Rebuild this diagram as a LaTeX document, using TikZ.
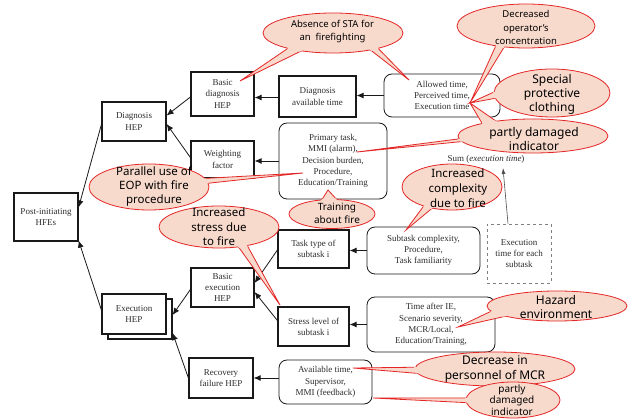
\documentclass[tikz,border=0pt]{standalone}
\usepackage{fontspec}
\setmainfont{Liberation Serif}
\newfontfamily\bubfont{Noto Sans}
\usetikzlibrary{arrows.meta,calc,shapes.geometric}
\definecolor{bubfill}{RGB}{248,218,205}
\definecolor{bubline}{RGB}{228,38,38}
\definecolor{boxtext}{RGB}{45,45,45}
\definecolor{boxline}{RGB}{25,25,25}
\tikzset{
  basebox/.style={fill=white,inner sep=0pt,align=center,text=boxtext,
    font=\fontsize{9}{11.2}\selectfont},
  sqbox/.style={basebox,draw=boxline,line width=1.2pt},
  rbox/.style={basebox,draw=boxline,line width=0.8pt,rounded corners=8pt},
  dbox/.style={basebox,draw=gray,dashed,line width=0.7pt},
  conn/.style={-{Latex[length=7pt,width=6pt]},line width=0.8pt,draw=boxline},
  bub/.style={draw=bubline,fill=bubfill,line width=0.8pt},
  bubtxt/.style={align=center,text=black,inner sep=0pt},
}
\newcommand\bubtail[6]{%
  \filldraw[bub] (#2) -- ($(#1)+(#3:{0.82*#5} and {0.82*#6})$) -- ($(#1)+(#4:{0.82*#5} and {0.82*#6})$) -- cycle;}
\newcommand\bubrefill[6]{%
  \begin{scope}
  \clip (#1) ellipse [x radius={#5+1.2pt}, y radius={#6+1.2pt}];
  \fill[bubfill] (#2) -- ($(#1)+(#3:{0.82*#5} and {0.82*#6})$) -- ($(#1)+(#4:{0.82*#5} and {0.82*#6})$) -- cycle;
  \end{scope}}
\begin{document}
\begin{tikzpicture}[x=1pt,y=-1pt]
\useasboundingbox[fill=white] (0,0) rectangle (629,419);

% ---------- boxes ----------
\node[sqbox,minimum width=64pt,minimum height=48pt] (post) at (46,217) {Post-initiating\\HFEs};
\node[sqbox,minimum width=64pt,minimum height=39pt] (diag) at (134,121.5) {Diagnosis\\HEP};
\node[sqbox,minimum width=63pt,minimum height=44pt] (basicdiag) at (222.5,94) {Basic\\diagnosis\\HEP};
\node[sqbox,minimum width=63pt,minimum height=37pt] (weight) at (222.5,159.5) {Weighting\\factor};
\node[sqbox,minimum width=77pt,minimum height=41pt] (davail) at (317.5,96.5) {Diagnosis\\available time};
\node[rbox,minimum width=116pt,minimum height=43pt] (allowed) at (442,95.5) {Allowed time,\\Perceived time,\\Execution time};
\node[rbox,minimum width=108pt,minimum height=76pt] (primary) at (333,161) {Primary task,\\MMI (alarm),\\Decision burden,\\Procedure,\\Education/Training};
\node[sqbox,minimum width=71pt,minimum height=38pt] (tasktype) at (313.5,249) {Task type of\\subtask i};
\node[rbox,minimum width=113pt,minimum height=47pt] (subtask) at (423.5,250.5) {Subtask complexity,\\Procedure,\\Task familiarity};
\node[dbox,minimum width=64pt,minimum height=59pt] (exectime) at (519,253.5) {Execution\\time for each\\subtask};
\node[sqbox,minimum width=63pt,minimum height=39pt] (basicexec) at (222.5,287.5) {Basic\\execution\\HEP};
\node[sqbox,minimum width=71pt,minimum height=39pt] (stress) at (313.5,326.5) {Stress level of\\subtask i};
\node[rbox,minimum width=128pt,minimum height=55pt] (timeafter) at (431,324.5) {Time after IE,\\Scenario severity,\\MCR/Local,\\Education/Training,};
\node[sqbox,minimum width=64pt,minimum height=40pt] (execback) at (140,319) {};
\node[sqbox,minimum width=64pt,minimum height=40pt] (exechep) at (134,314) {Execution\\HEP};
\node[sqbox,minimum width=64pt,minimum height=40pt] (recovery) at (221,378) {Recovery\\failure HEP};
\node[rbox,minimum width=93pt,minimum height=44pt] (availtime) at (325.5,382) {Available time,\\Supervisor,\\MMI (feedback)};

\node[text=boxtext,font=\fontsize{9}{11}\selectfont,inner sep=0pt] (sum) at (486,159) {Sum (\textit{execution time})};
\coordinate (sumtip) at (503,168);

% ---------- connectors ----------
\draw[conn] ([yshift=-3pt]diag.west) -- ([yshift=-15pt]post.north east);
\draw[conn] ([yshift=4pt]exechep.west) -- ([yshift=1pt]post.south east);
\draw[conn] ([yshift=-3pt]basicdiag.west) -- ([yshift=6pt]diag.east);
\draw[conn] ([yshift=2pt]weight.west) -- ([yshift=-2.5pt]diag.east);
\draw[conn] ([yshift=-1pt]davail.west) -- ([yshift=-1pt]davail.west -| basicdiag.east);
\draw[conn] (allowed.west) -- (allowed.west -| davail.east);
\draw[conn] (primary.west) -- (primary.west -| weight.east);
\draw[conn] ([yshift=-1pt]tasktype.west) -- ([yshift=4.5pt]basicexec.east);
\draw[conn] ([yshift=6pt]stress.west) -- ([yshift=-4.5pt]basicexec.east);
\draw[conn] (subtask.west) -- (subtask.west -| tasktype.east);
\draw[conn] (timeafter.west) -- (timeafter.west -| stress.east);
\draw[conn] ([yshift=-2pt]basicexec.west) -- ([yshift=4pt]execback.east);
\draw[conn] (recovery.west) -- ([yshift=-14pt]execback.east);
\draw[conn] (recovery.east -| availtime.west) -- (recovery.east);
\draw[line width=0.6pt,draw=gray!60!black,-{Latex[length=6pt,width=4pt]}] ([xshift=-11pt]exectime.north) -- (sumtip);

% ---------- callouts ----------
% Absence of STA
\coordinate (cA) at (333,33);
\coordinate (pA1) at (240,81);
\coordinate (pA2) at (409,80);
\bubtail{cA}{pA1}{226}{244}{70pt}{20pt}
\bubtail{cA}{pA2}{305}{316}{70pt}{20pt}
\filldraw[bub] (cA) ellipse [x radius=70pt, y radius=20pt];
\bubrefill{cA}{pA1}{226}{244}{70pt}{20pt}
\bubrefill{cA}{pA2}{305}{316}{70pt}{20pt}
\node[bubtxt,font=\bubfont\fontsize{9.5}{13}\selectfont] (tA) at (332.5,31.5) {Absence of STA for\\an\ \ firefighting};

% Decreased operator's concentration
\coordinate (cB) at (526,26);
\coordinate (pB) at (470,103);
\bubtail{cB}{pB}{240}{250}{69pt}{22pt}
\filldraw[bub] (cB) ellipse [x radius=69pt, y radius=22pt];
\bubrefill{cB}{pB}{240}{250}{69pt}{22pt}
\node[bubtxt,font=\bubfont\fontsize{9.5}{13.5}\selectfont] (tB) at (526,27.5) {Decreased\\operator’s\\concentration};

% Special protective clothing
\coordinate (cC) at (552,93);
\bubtail{cC}{pB}{158}{190}{58pt}{24pt}
\filldraw[bub] (cC) ellipse [x radius=58pt, y radius=24pt];
\bubrefill{cC}{pB}{158}{190}{58pt}{24pt}
\node[bubtxt,font=\bubfont\fontsize{12}{14}\selectfont] (tC) at (552,94) {Special\\protective\\clothing};

% partly damaged indicator (top)
\coordinate (cD) at (533,136);
\coordinate (pD) at (357,152);
\bubtail{cD}{pB}{122}{142}{75pt}{17pt}
\bubtail{cD}{pD}{185}{198}{75pt}{17pt}
\filldraw[bub] (cD) ellipse [x radius=75pt, y radius=17pt];
\bubrefill{cD}{pB}{122}{142}{75pt}{17pt}
\bubrefill{cD}{pD}{185}{198}{75pt}{17pt}
\node[bubtxt,font=\bubfont\fontsize{12}{14}\selectfont] (tD) at (534,139) {partly damaged\\indicator};

% Parallel use of EOP
\coordinate (cE) at (149,187);
\coordinate (pE) at (303,173);
\bubtail{cE}{pE}{8}{25}{60pt}{23pt}
\filldraw[bub] (cE) ellipse [x radius=60pt, y radius=23pt];
\bubrefill{cE}{pE}{8}{25}{60pt}{23pt}
\node[bubtxt,font=\bubfont\fontsize{11.5}{14}\selectfont] (tE) at (154,186) {Parallel use of\\EOP with fire\\procedure};

% Training about fire
\coordinate (cF) at (332,214);
\coordinate (pF) at (328,190);
\bubtail{cF}{pF}{78}{110}{43pt}{14.5pt}
\filldraw[bub] (cF) ellipse [x radius=43pt, y radius=14.5pt];
\bubrefill{cF}{pF}{78}{110}{43pt}{14.5pt}
\node[bubtxt,font=\bubfont\fontsize{10}{13}\selectfont] (tF) at (337,213.5) {Training\\about fire};

% Increased complexity
\coordinate (cG) at (452,187);
\coordinate (pG) at (406,230);
\bubtail{cG}{pG}{232}{248}{50pt}{23pt}
\filldraw[bub] (cG) ellipse [x radius=50pt, y radius=23pt];
\bubrefill{cG}{pG}{232}{248}{50pt}{23pt}
\node[bubtxt,font=\bubfont\fontsize{11.5}{15}\selectfont] (tG) at (458,188) {Increased\\complexity\\due to fire};

% Increased stress
\coordinate (cH) at (219,227);
\coordinate (pH) at (280,305);
\bubtail{cH}{pH}{290}{302}{60pt}{21pt}
\filldraw[bub] (cH) ellipse [x radius=60pt, y radius=21pt];
\bubrefill{cH}{pH}{290}{302}{60pt}{21pt}
\node[bubtxt,font=\bubfont\fontsize{11.5}{14.5}\selectfont] (tH) at (219,227) {Increased\\stress due\\to fire};

% Hazard environment
\coordinate (cI) at (557,306);
\coordinate (pI) at (458,327);
\bubtail{cI}{pI}{185}{222}{70pt}{15pt}
\filldraw[bub] (cI) ellipse [x radius=70pt, y radius=15pt];
\bubrefill{cI}{pI}{185}{222}{70pt}{15pt}
\node[bubtxt,font=\bubfont\fontsize{12}{14}\selectfont] (tI) at (556,307) {Hazard\\environment};

% Decrease in personnel of MCR
\coordinate (cJ) at (495,369);
\coordinate (pJ) at (353,368);
\bubtail{cJ}{pJ}{172}{205}{80pt}{17pt}
\filldraw[bub] (cJ) ellipse [x radius=80pt, y radius=17pt];
\bubrefill{cJ}{pJ}{172}{205}{80pt}{17pt}
\node[bubtxt,font=\bubfont\fontsize{12}{15}\selectfont] (tJ) at (495,369.5) {Decrease in\\personnel of MCR};

% partly damaged indicator (bottom)
\coordinate (cK) at (513,400);
\coordinate (pK) at (373,398);
\bubtail{cK}{pK}{172}{192}{47pt}{18pt}
\filldraw[bub] (cK) ellipse [x radius=47pt, y radius=18pt];
\bubrefill{cK}{pK}{172}{192}{47pt}{18pt}
\node[bubtxt,font=\bubfont\fontsize{10}{11.5}\selectfont] (tK) at (512,400) {partly\\damaged\\indicator};
\end{tikzpicture}
\end{document}
